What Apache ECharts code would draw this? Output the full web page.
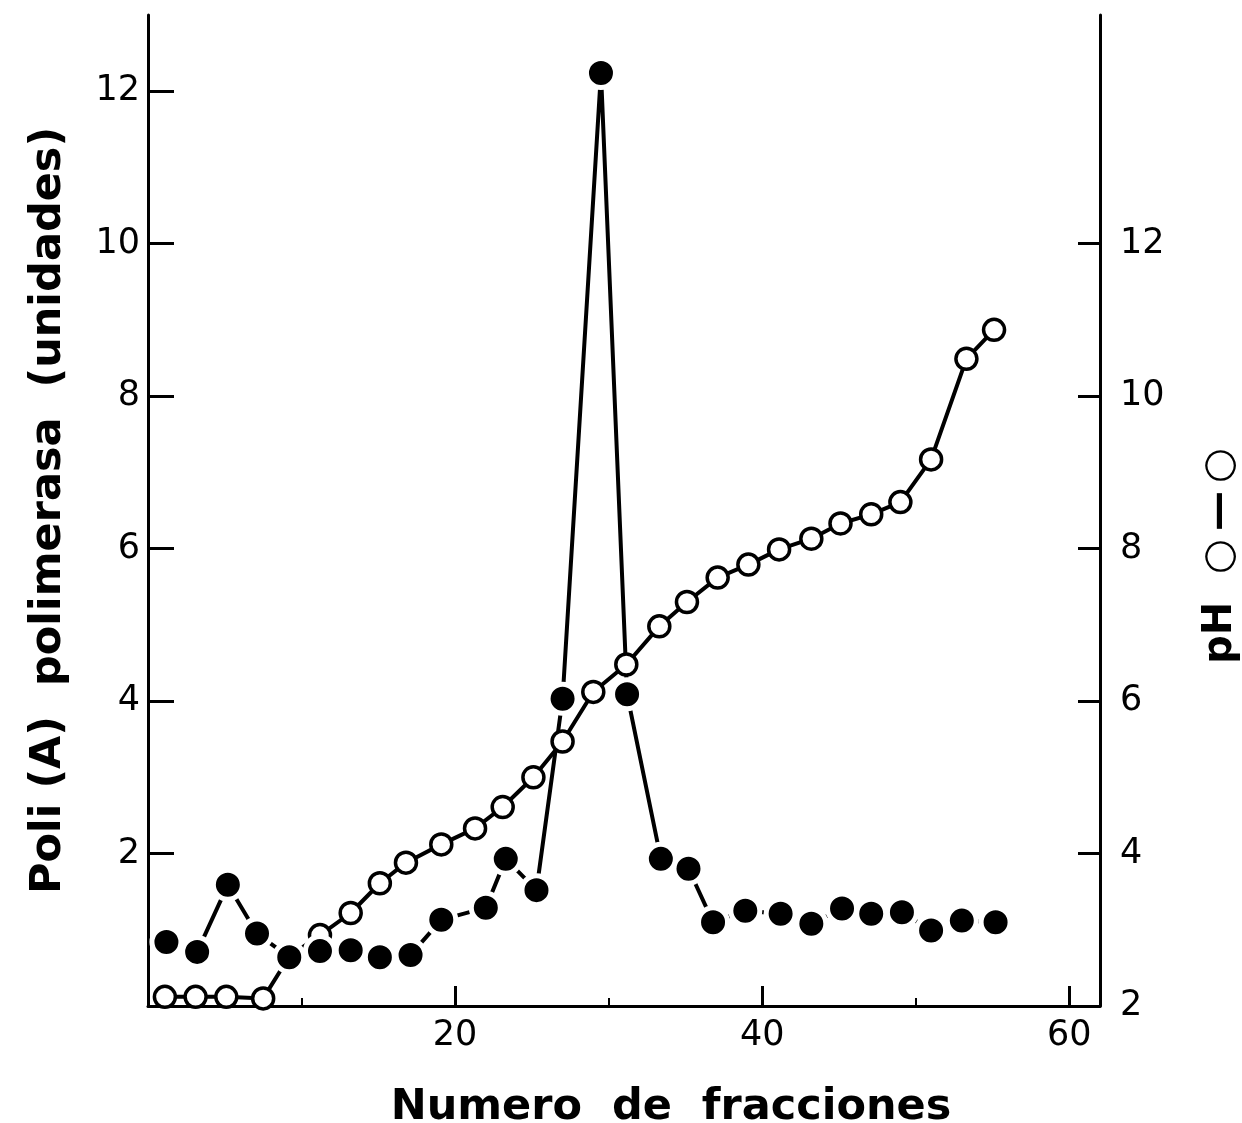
<!DOCTYPE html>
<html><head><meta charset="utf-8">
<script src="https://cdn.jsdelivr.net/npm/echarts@6/dist/echarts.min.js"></script>
<style>html,body{margin:0;padding:0;background:#fff}#c{width:1242px;height:1123px}</style>
</head><body><div id="c"></div>
<script>
// Poli(A) polimerasa (unidades) — filled circles
const polyA_x = [1.2,3.2,5.2,7.1,9.2,11.2,13.2,15.1,17.1,19.1,22.0,23.3,25.3,27.0,29.5,31.2,33.4,35.2,36.8,38.9,41.2,43.2,45.2,47.1,49.1,51.0,53.0,55.2];
const polyA_y = [0.84,0.71,1.59,0.95,0.64,0.72,0.73,0.64,0.67,1.13,1.29,1.93,1.52,4.03,12.24,4.09,1.93,1.80,1.10,1.25,1.21,1.08,1.28,1.21,1.23,0.99,1.12,1.10];
// pH — open circles
const pH_x = [1.1,3.1,5.1,7.5,9.2,11.2,13.2,15.1,16.8,19.1,21.3,23.1,25.1,27.0,29.0,31.15,33.3,35.1,37.1,39.1,41.1,43.2,45.1,47.1,49.0,51.0,53.3,55.1];
const pH_y = [2.12,2.12,2.12,2.10,2.65,2.93,3.22,3.61,3.88,4.12,4.33,4.61,5.0,5.47,6.12,6.48,6.98,7.30,7.62,7.79,7.99,8.13,8.33,8.45,8.61,9.17,10.49,10.87];

const xTickValues = [20,40,60];
const xMinorTickValues = [10,30,50];
const leftTickValues = [2,4,6,8,10,12];
const rightTickValues = [2,4,6,8,10,12];

const xName = 'Numero  de  fracciones';
const leftName = 'Poli (A)  polimerasa  (unidades)';
const rightName = 'pH  \u25CB\u2009\u2014\u2009\u25CB';

const polyAData = polyA_x.map((x,i)=>[x, polyA_y[i]]);
const pHData = pH_x.map((x,i)=>[x, pH_y[i]]);

const numFont = {fontFamily:'DejaVu Sans', fontSize:35, color:'#000'};
const nameFont = {fontFamily:'DejaVu Sans', fontWeight:'bold', fontSize:43, color:'#000'};
const axLine = {show:true, onZero:false, lineStyle:{color:'#000', width:3}};

const chart = echarts.init(document.getElementById('c'), null, {renderer:'canvas'});
chart.setOption({
  animation:false,
  backgroundColor:'#fff',
  grid:{left:148, right:142, top:15, bottom:117, containLabel:false, outerBoundsMode:'none'},
  xAxis:[{
    type:'value', min:0, max:62, position:'bottom',
    axisLine:axLine,
    axisTick:{show:true, inside:true, length:20, lineStyle:{color:'#000', width:3}, customValues:xTickValues},
    axisLabel:Object.assign({margin:12, customValues:xTickValues}, numFont),
    splitLine:{show:false},
    name:xName, nameLocation:'middle', nameGap:80,
    nameTextStyle:Object.assign({padding:[0,0,0,94]}, nameFont)
  },{
    type:'value', min:0, max:62, position:'bottom',
    axisLine:{show:false, onZero:false},
    axisTick:{show:true, inside:true, length:8, lineStyle:{color:'#000', width:2}, customValues:xMinorTickValues},
    axisLabel:{show:false},
    splitLine:{show:false}
  }],
  yAxis:[{
    type:'value', min:0, max:13, position:'left',
    axisLine:axLine,
    axisTick:{show:true, inside:true, length:26, lineStyle:{color:'#000', width:3}, customValues:leftTickValues},
    axisLabel:Object.assign({margin:8, customValues:leftTickValues}, numFont),
    splitLine:{show:false},
    name:leftName, nameLocation:'middle', nameGap:78, nameRotate:90,
    nameTextStyle:nameFont
  },{
    type:'value', min:2, max:15, position:'right',
    axisLine:axLine,
    axisTick:{show:true, inside:true, length:22, lineStyle:{color:'#000', width:3}, customValues:rightTickValues},
    axisLabel:Object.assign({margin:20, customValues:rightTickValues}, numFont),
    splitLine:{show:false}
  }],
  graphic:[{
    type:'text', x:1221, y:556, rotation:Math.PI/2, z:10,
    style:{text:rightName, fill:'#000', font:'bold 40px "DejaVu Sans"', textAlign:'center', textVerticalAlign:'middle', align:'center', verticalAlign:'middle'}
  }],
  series:[{
    name:'polyA-line', type:'line', xAxisIndex:0, yAxisIndex:0, data:polyAData, z:1,
    showSymbol:false, symbol:'none',
    lineStyle:{color:'#000', width:4}
  },{
    name:'pH', type:'line', xAxisIndex:0, yAxisIndex:1, data:pHData, z:2,
    symbol:'circle', symbolSize:21,
    itemStyle:{color:'#fff', borderColor:'#000', borderWidth:3.5},
    lineStyle:{color:'#000', width:4}
  },{
    name:'polyA', type:'scatter', xAxisIndex:0, yAxisIndex:0, data:polyAData, z:3,
    symbol:'circle', symbolSize:29,
    itemStyle:{color:'#000', borderColor:'#fff', borderWidth:5, opacity:1}
  }]
});
</script>
</body></html>
